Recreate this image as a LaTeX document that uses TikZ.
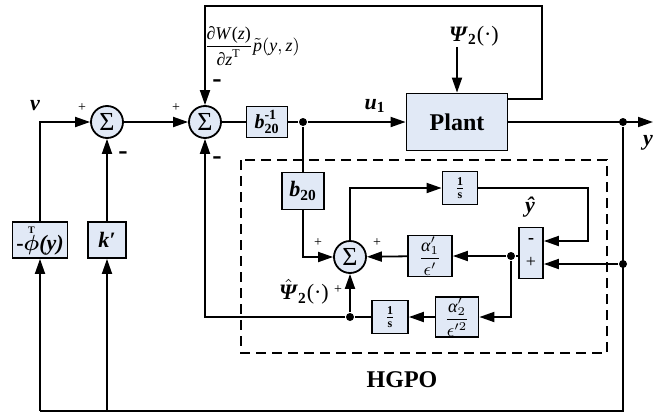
\documentclass[tikz,border=0pt]{standalone}
\usepackage{amsmath}
\usepackage{fontspec}
\setmainfont{Liberation Serif}
\usetikzlibrary{arrows.meta,calc}
\definecolor{boxfill}{RGB}{225,233,246}
\newcommand{\bi}[1]{\textbf{\textit{#1}}}
\newcommand{\lblsize}{\fontsize{11}{13}\selectfont}

\begin{document}
\begin{tikzpicture}[x=0.5pt,y=-0.5pt,
        line width=0.9pt,
        box/.style={rectangle, draw, fill=boxfill, inner sep=0pt, font=\lblsize},
        sumnode/.style={circle, draw, fill=boxfill, minimum size=16pt, inner sep=0pt, font=\fontsize{13}{15}\selectfont},
        lbl/.style={font=\lblsize, inner sep=0pt},
        plus/.style={font=\scriptsize, inner sep=0pt},
        minus/.style={font=\fontsize{14}{14}\selectfont\bfseries, inner sep=0pt},
        arrow/.style={-{Triangle[length=7.5pt,width=5pt]}},
        dot/.style={circle, fill, minimum size=4pt, inner sep=0pt}
    ]
        \useasboundingbox (0,0) rectangle (654,413);

        % forward path
        \node[sumnode] (s1) at (107,122) {Σ};
        \node[sumnode] (s2) at (205,122) {Σ};
        \node[box, minimum width=20.5pt, minimum height=15.5pt, font=\fontsize{10}{12}\selectfont] (binv) at (267,122) {$\text{\bi{b}}^{\textbf{-1}}_{\textbf{20}}$};
        \node[dot] (d1) at (303,122) {};
        \node[box, minimum width=50.5pt, minimum height=28.5pt, font=\large\bfseries] (plant) at (457,122) {Plant};
        \node[dot] (d2) at (623,122) {};
        \coordinate (yout) at (653,122);

        % feedback gains
        \node[box, minimum width=27.5pt, minimum height=18pt] (phi) at (40,240) {\textbf{-}$\overset{\raisebox{-2pt}{\tiny\bfseries T}}{\boldsymbol{\phi}}$\bi{(y)}};
        \node[box, minimum width=19pt, minimum height=18pt] (kp) at (107,240) {\bi{k′}};

        % observer
        \draw[dash pattern=on 5pt off 3pt] (241,160) rectangle (607,353);
        \node[box, minimum width=21pt, minimum height=18.5pt] (b20) at (303,191) {$\text{\bi{b}}_{\textbf{20}}$};
        \node[sumnode] (s3) at (350,257) {Σ};
        \node[box, minimum width=17.5pt, minimum height=16.5pt, font=\small] (int1) at (460,188) {$\frac{\textbf{1}}{\textbf{s}}$};
        \node[box, minimum width=12pt, minimum height=25.5pt, align=center, font=\small] (pm) at (531,253) {\textbf{-}\\[1pt]+};
        \node[box, minimum width=22pt, minimum height=20.5pt, font=\small] (a1) at (430,256) {$\dfrac{\textit{α}'_{1}}{\epsilon'}$};
        \node[box, minimum width=21.5pt, minimum height=20pt, font=\small] (a2) at (457,317) {$\dfrac{\textit{α}'_{2}}{\epsilon'^{2}}$};
        \node[box, minimum width=18pt, minimum height=16.5pt, font=\small] (int2) at (390,317) {$\frac{\textbf{1}}{\textbf{s}}$};
        \node[dot] (d3) at (511,256) {};
        \node[dot] (d4) at (350,317) {};
        \node[dot] (d5) at (623,264) {};

        % labels
        \node[lbl] (lv) at (35,106) {\bi{v}};
        \node[lbl] (lu) at (375,106) {\bi{u}$_{\textbf{1}}$};
        \node[lbl] (ly) at (648,143) {\bi{y}};
        \node[lbl] (lpsi) at (474,36) {\bi{Ψ}$_{\textbf{2}}$(·)};
        \node[lbl, font=\small] (ldw) at (252,46) {$\dfrac{\text{∂\textit{W}(\textit{z})}}{\text{∂\textit{z}}^{\text{T}}}\tilde{\text{\textit{p}}}(\textit{y},\textit{z})$};
        \node[lbl] (lyhat) at (530,207) {\bi{ŷ}};
        \node[lbl] (lpsihat) at (304,292) {$\hat{\text{\bi{Ψ}}}_{\textbf{2}}$(·)};
        \node[font=\large\bfseries] (lhgpo) at (402,380) {HGPO};

        % signs
        \node[plus] (p1) at (82,108) {+};
        \node[minus] (m1) at (123,156) {-};
        \node[plus] (p2) at (176,108) {+};
        \node[minus] (m2) at (217,161) {-};
        \node[minus] (m3) at (217,84) {-};
        \node[plus] (p3) at (318,243) {+};
        \node[plus] (p4) at (377,243) {+};
        \node[plus] (p5) at (338,290) {+};

        % corners
        \coordinate (cvin) at (40,122);
        \coordinate (cbr) at (623,411);
        \coordinate (cbphi) at (40,411);
        \coordinate (cbk) at (107,411);
        \coordinate (ct1) at (542,99);
        \coordinate (ct2) at (542,6);
        \coordinate (ct3) at (205,6);
        \coordinate (cb20) at (303,257);
        \coordinate (cs3) at (350,188);
        \coordinate (ci1a) at (588,188);
        \coordinate (ci1b) at (588,241);
        \coordinate (cd3) at (511,317);
        \coordinate (chat) at (205,317);

        \draw[arrow] (phi) -- (cvin) -- (s1);
        \draw[arrow] (kp) -- (s1);
        \draw[arrow] (s1) -- (s2);
        \draw (s2) -- (binv);
        \draw (binv) -- (d1);
        \draw[arrow] (d1) -- (plant);
        \draw[arrow] (plant) -- (yout);
        \draw[arrow] (plant.east |- ct1) -- (ct1) -- (ct2) -- (ct3) -- (s2);
        \draw[arrow] (lpsi.south -| plant.north) -- (plant.north);
        \draw (d2) -- (cbr) -- (cbphi);
        \draw[arrow] (cbphi) -- (phi);
        \draw[arrow] (cbk) -- (kp);

        \draw (d1) -- (b20);
        \draw[arrow] (b20) -- (cb20) -- (s3);
        \draw[arrow] (s3) -- (cs3) -- (int1);
        \draw[arrow] (int1) -- (ci1a) -- (ci1b) -- (ci1b -| pm.east);
        \draw[arrow] (d5) -- (d5 -| pm.east);
        \draw (pm.west |- d3) -- (d3);
        \draw[arrow] (d3) -- (a1);
        \draw[arrow] (a1) -- (s3);
        \draw[arrow] (d3) -- (cd3) -- (a2);
        \draw[arrow] (a2) -- (int2);
        \draw (int2) -- (d4);
        \draw[arrow] (d4) -- (s3);
        \draw[arrow] (d4) -- (chat) -- (s2);
    \end{tikzpicture}
\end{document}
